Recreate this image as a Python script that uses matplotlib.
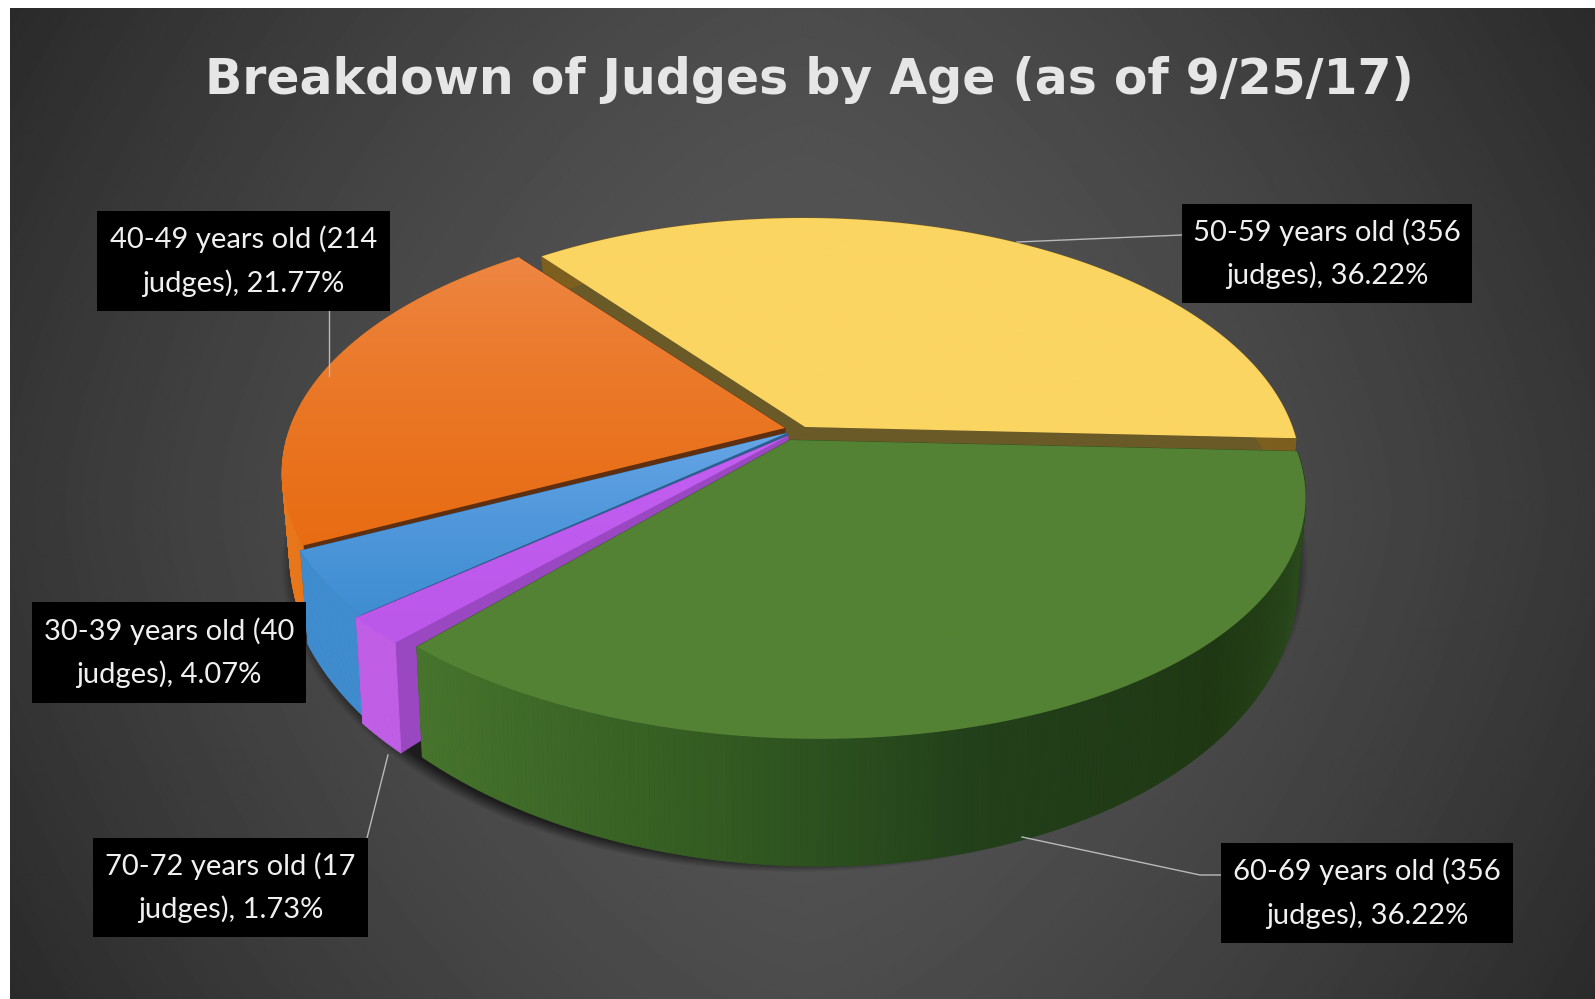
"""Judges by age, drawn as an extruded pie with callout labels."""

from __future__ import annotations

import matplotlib
matplotlib.use("Agg")
import matplotlib.pyplot as plt
import numpy as np
from matplotlib.colors import to_rgb
from matplotlib.patches import Polygon, Rectangle

WIDTH, HEIGHT = 1595, 999

# clockwise from the 3 o'clock seam
age_groups = ["60-69", "70-72", "30-39", "40-49", "50-59"]
judges = [356, 17, 40, 214, 356]

# slice styling, same order as age_groups
top_colors = [("#548234", "#548234"), ("#c45ff2", "#bb58ea"), ("#6aa8e8", "#3f8dd2"),
              ("#ee8846", "#e86c12"), ("#fbd561", "#fbd561")]
cut_colors = ["#2f4f1d", "#9a48c2", "#2c5f90", "#5f2f10", "#6a5a28"]
wall_colors = ["#2c4d1c", "#c05fe6", "#3f8ccf", "#e8761a", "#7d5f1f"]
offsets = [(0, 8), (-2, 4), (-3, 1), (-5, -4), (15, -5)]
x_scales = [1.005, 1.03, 1.005, 0.99, 0.975]
shears = [24, 12, 6, 0, 2]
draw_order = [4, 3, 2, 1, 0]

# callout boxes: x0, y0, x1, y1
boxes = {
    "30-39": (32, 602, 306, 703),
    "40-49": (97, 211, 390, 311),
    "50-59": (1182, 204, 1472, 303),
    "60-69": (1221, 843, 1513, 943),
    "70-72": (93, 838, 368, 937),
}
leaders = {
    "40-49": ([329, 329], [311, 376]),
    "50-59": ([1182, 1017], [235, 242]),
    "60-69": ([1221, 1200, 1022], [875, 875, 837]),
    "70-72": ([367, 388], [838, 755]),
}

START_ANGLE = 2.6
APEX_X, APEX_Y = 790, 432
SCALE_X, SCALE_Y, TILT = 500, 246, 0.177
DEPTH, DEPTH_SCALE_X, DEPTH_SCALE_Y = 72, 0.985, 1.185


def project(theta, shear):
    """Map disc angle (degrees, clockwise) to screen offsets from the apex."""
    u = np.cos(np.radians(theta))
    v = np.sin(np.radians(theta))
    w = 1 - TILT * v
    return (SCALE_X * u + shear * v) / w, SCALE_Y * v / w


def lower(x, y):
    return x * DEPTH_SCALE_X, y * DEPTH_SCALE_Y + DEPTH


def draw_background(ax):
    xs, ys = np.meshgrid(np.arange(WIDTH), np.arange(HEIGHT))
    dx = np.abs(xs - 800) / 790
    dy = np.abs(ys - 500) / 490
    value = (88 - 33 * dx**1.5 - 12 * dy**1.5) / 255
    ax.imshow(value, cmap="gray", vmin=0, vmax=1, extent=(10, WIDTH, HEIGHT, 8),
              aspect="auto", zorder=0)


def draw_shadow(ax):
    theta = np.linspace(0, 360, 361)
    x, y = lower(*project(theta, shears[0]))
    x0, x1, y0, y1 = x.min(), x.max(), y.min(), y.max()
    cx, cy = APEX_X + (x0 + x1) / 2, APEX_Y + (y0 + y1) / 2 + 6
    xs, ys = np.meshgrid(np.arange(WIDTH), np.arange(HEIGHT))
    dist = np.hypot((xs - cx) / ((x1 - x0) / 2), (ys - cy) / ((y1 - y0) / 2))
    rgba = np.zeros((HEIGHT, WIDTH, 4))
    rgba[..., 3] = 0.6 * np.clip((1.025 - dist) / 0.035, 0, 1)
    ax.imshow(rgba, extent=(0, WIDTH, HEIGHT, 0), aspect="auto", zorder=1)


def green_wall(theta):
    # the long front wall darkens towards the middle, then lifts again
    keys = [2, 20, 45, 75, 100, 133]
    shades = ["#1b3211", "#2a4a1c", "#1f3813", "#22401a", "#345c22", "#47752d"]
    rgb = np.array([to_rgb(s) for s in shades])
    return tuple(np.interp(theta, keys, rgb[:, i]) for i in range(3))


def draw_slice(ax, index, start, stop, z):
    off_x, off_y = offsets[index]
    cx, cy = APEX_X + off_x, APEX_Y + off_y
    theta = np.linspace(start, stop, max(int(stop - start) * 2, 4))
    rim_x, rim_y = project(theta, shears[index])
    rim_x = rim_x * x_scales[index]
    base_x, base_y = lower(rim_x, rim_y)
    apex_bx, apex_by = lower(0.0, 0.0)

    # cut faces run from the axis out to the rim at both ends
    for i in (0, -1):
        quad = [(cx, cy), (cx + rim_x[i], cy + rim_y[i]),
                (cx + base_x[i], cy + base_y[i]), (cx + apex_bx, cy + apex_by)]
        ax.add_patch(Polygon(quad, closed=True, fc=cut_colors[index], ec=cut_colors[index],
                             lw=0.5, zorder=z))

    # outer wall, back to front
    steps = np.argsort(np.sin(np.radians(theta[:-1])))
    for i in steps:
        quad = [(cx + rim_x[i], cy + rim_y[i]), (cx + rim_x[i + 1], cy + rim_y[i + 1]),
                (cx + base_x[i + 1], cy + base_y[i + 1]), (cx + base_x[i], cy + base_y[i])]
        color = green_wall(theta[i]) if index == 0 else wall_colors[index]
        ax.add_patch(Polygon(quad, closed=True, fc=color, ec=color, lw=0.6, zorder=z + 0.1))

    # top face with a vertical gradient, quick at first and then settling
    outline = [(cx, cy)] + list(zip(cx + rim_x, cy + rim_y))
    top = Polygon(outline, closed=True, fc="none", ec="none", zorder=z + 0.2)
    ax.add_patch(top)
    xs, ys = zip(*outline)
    c0, c1 = (np.array(to_rgb(c)) for c in top_colors[index])
    ramp = np.linspace(0, 1, 256)[:, None, None] ** 0.7
    image = ax.imshow(c0 + (c1 - c0) * ramp, extent=(min(xs), max(xs), max(ys), min(ys)),
                      aspect="auto", zorder=z + 0.2)
    image.set_clip_path(top)


def main() -> None:
    fig = plt.figure(figsize=(WIDTH / 100, HEIGHT / 100), dpi=100, facecolor="white")
    ax = fig.add_axes([0, 0, 1, 1])

    draw_background(ax)
    draw_shadow(ax)

    total = sum(judges)
    sweeps = 360 * np.array(judges) / total
    edges = START_ANGLE + np.concatenate([[0], np.cumsum(sweeps)])
    for z, index in enumerate(draw_order):
        draw_slice(ax, index, edges[index], edges[index + 1], 2 + z)

    for xs, ys in leaders.values():
        ax.plot(xs, ys, color="#b9b9b9", lw=1.0, zorder=9)

    for group, count in zip(age_groups, judges):
        x0, y0, x1, y1 = boxes[group]
        ax.add_patch(Rectangle((x0, y0), x1 - x0, y1 - y0, fc="black", ec="none", zorder=10))
        label = f"{group} years old ({count}\njudges), {count / total:.2%}"
        ax.text((x0 + x1) / 2, (y0 + y1) / 2, label, color="#f0f0f0", fontsize=21,
                family="Lato", ha="center", va="center", linespacing=1.7, zorder=11)

    ax.text(809, 80, "Breakdown of Judges by Age (as of 9/25/17)", color="#e6e6e6",
            fontsize=35.2, fontweight="bold", family="DejaVu Sans", ha="center", va="center",
            zorder=11)

    ax.set_xlim(0, WIDTH)
    ax.set_ylim(HEIGHT, 0)
    ax.axis("off")
    fig.savefig("out.png", dpi=100, facecolor="white")


if __name__ == "__main__":
    main()
